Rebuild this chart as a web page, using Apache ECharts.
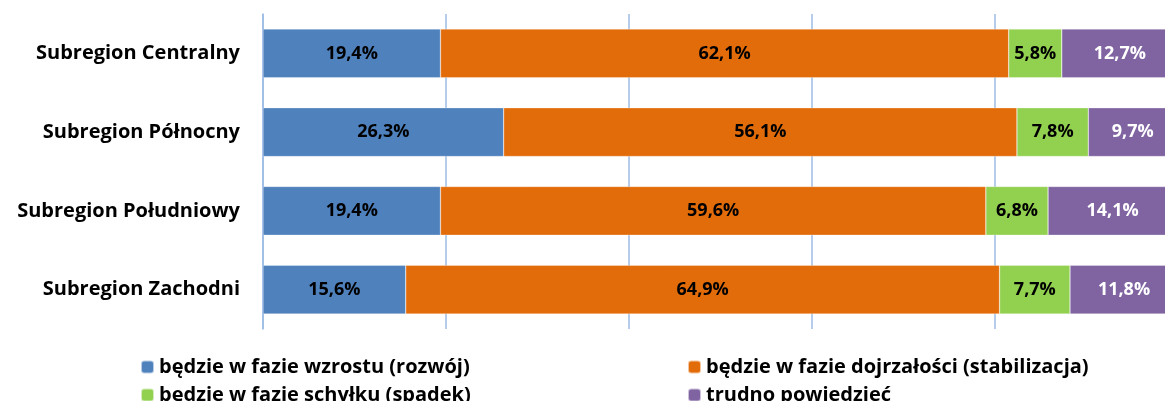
<!DOCTYPE html>
<html>
<head>
<meta charset="utf-8">
<script src="https://cdn.jsdelivr.net/npm/echarts@6/dist/echarts.min.js"></script>
<style>
  html, body { margin: 0; padding: 0; background: #fff; }
  #chart { width: 1165px; height: 401px; }
</style>
</head>
<body>
<div id="chart"></div>
<script>
// categories, top to bottom
const subregions = ['Subregion Centralny', 'Subregion Północny', 'Subregion Południowy', 'Subregion Zachodni'];

const seriesNames = [
  'będzie w fazie wzrostu (rozwój)',
  'będzie w fazie dojrzałości (stabilizacja)',
  'będzie w fazie schyłku (spadek)',
  'trudno powiedzieć'
];

const wzrost = [19.4, 26.3, 19.4, 15.6];
const dojrzalosc = [62.1, 56.1, 59.6, 64.9];
const schylek = [5.8, 7.8, 6.8, 7.7];
const trudno = [12.7, 9.7, 14.1, 11.8];

const colors = ['#4F81BD', '#E36C0A', '#92D050', '#8064A2'];
const labelColors = ['#000', '#000', '#000', '#fff'];
const FONT = 'Open Sans';

const chart = echarts.init(document.getElementById('chart'));

const allData = [wzrost, dojrzalosc, schylek, trudno];
const series = allData.map((d, i) => ({
  name: seriesNames[i],
  type: 'bar',
  stack: 'total',
  barCategoryGap: '38%',
  data: d,
  itemStyle: { color: colors[i], borderColor: 'rgba(255,255,255,0.6)', borderWidth: 0.5 },
  label: {
    show: true,
    position: 'inside',
    formatter: p => p.value.toFixed(1).replace('.', ',') + '%',
    color: labelColors[i],
    fontFamily: FONT,
    fontWeight: 'bold',
    fontSize: 18
  },
  emphasis: { disabled: true }
}));

const legendText = { color: '#000', fontFamily: FONT, fontWeight: 'bold', fontSize: 20, lineHeight: 22 };

const legendBase = {
  orient: 'vertical',
  top: 356,
  height: 80,
  itemWidth: 13,
  itemHeight: 13,
  itemGap: 6,
  padding: 0,
  textStyle: legendText
};

chart.setOption({
  animation: false,
  grid: { left: 263, top: 14, height: 315, width: 915, outerBoundsMode: 'none' },
  xAxis: {
    type: 'value',
    min: 0,
    max: 100,
    interval: 20,
    axisLabel: { show: false },
    axisLine: { show: false },
    axisTick: { show: false },
    splitLine: { show: true, lineStyle: { color: '#9DBCE4', width: 1.5 } }
  },
  yAxis: {
    type: 'category',
    inverse: true,
    data: subregions,
    axisLine: { show: true, lineStyle: { color: '#9DBCE4', width: 1.5 } },
    axisTick: { show: false },
    axisLabel: {
      margin: 23,
      color: '#000',
      fontFamily: FONT,
      fontWeight: 'bold',
      fontSize: 20
    }
  },
  legend: [
    Object.assign({}, legendBase, { data: [seriesNames[0], seriesNames[2]], left: 140 }),
    Object.assign({}, legendBase, { data: [seriesNames[1], seriesNames[3]], left: 687 })
  ],
  series: series
});
</script>
</body>
</html>
